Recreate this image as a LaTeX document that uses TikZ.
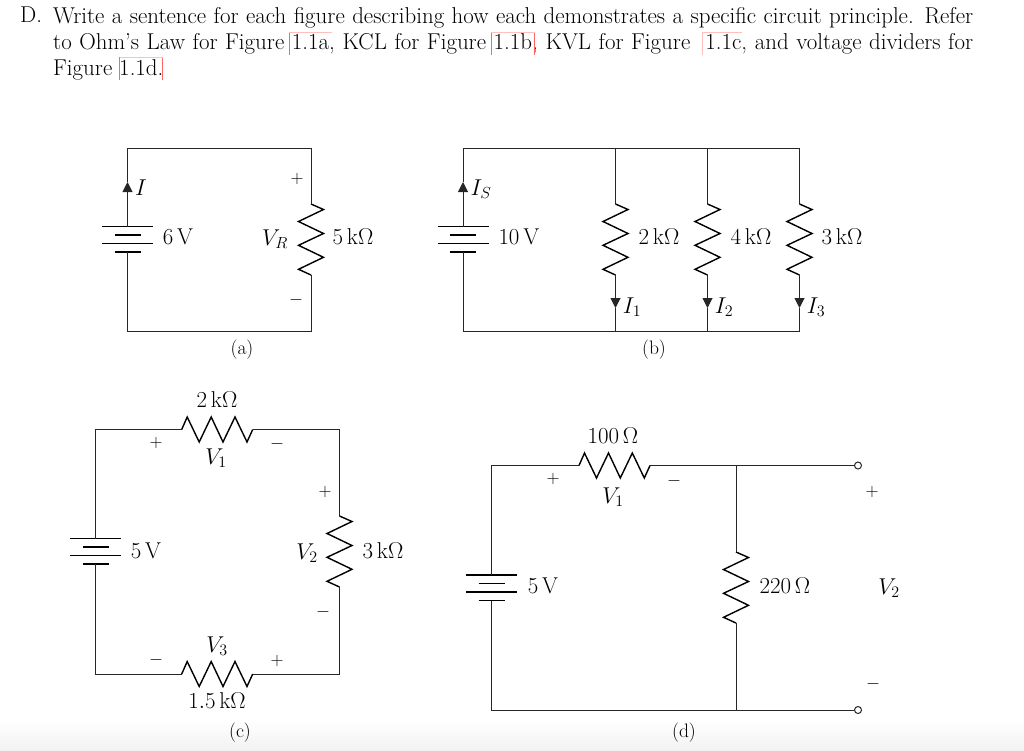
\RequirePackage{fix-cm}
\documentclass[tikz,border=0pt]{standalone}
\usepackage{amsmath, amssymb}
\usepackage{xcolor}
\usetikzlibrary{arrows.meta}
\tikzset{wire/.style={draw=black!85,line width=1pt},
	currtip/.style={wire,-{Triangle[length=10pt,width=10pt]}},
	lbl/.style={inner sep=0pt,font=\fontsize{22.9}{27}\selectfont},
	sgn/.style={inner sep=0pt,font=\fontsize{18}{20}\selectfont},
	figcap/.style={inner sep=0pt,font=\fontsize{19.5}{22}\selectfont},
	term/.style={circle,draw=black!85,line width=1pt,fill=white,inner sep=0pt,minimum size=7pt},
	redbar/.style={draw=red!60,line width=0.9pt},
	redpale/.style={draw=red!25,line width=0.9pt},
	resistor/.pic={
		\draw[line width=1.4pt,line join=miter] (0,0) -- (5.5,-12.5) -- (17.5,12.5) -- (29.5,-12.5) -- (41.3,12.5) -- (53.3,-12.5) -- (65.3,12.5) -- (71,0);
		\coordinate (-in) at (0,0);
		\coordinate (-out) at (71,0);
	},
	battery/.pic={
		\draw[line width=1.3pt] (-25.5,0) -- (25.5,0);
		\draw[line width=1.3pt] (-13,8.5) -- (13,8.5);
		\draw[line width=1.3pt] (-25.5,17) -- (25.5,17);
		\draw[line width=1.3pt] (-13,25.5) -- (13,25.5);
		\coordinate (-top) at (0,0);
		\coordinate (-bot) at (0,25.5);
	}}
\begin{document}
\begin{tikzpicture}[x=1pt,y=-1pt]
	\useasboundingbox (0,0) rectangle (1024,750);
	\shade[top color=white,bottom color=black!5] (0,720) rectangle (1024,750);
	\node[lbl,anchor=north west] (itemD) at (20,7) {D.};
	\node[lbl,anchor=north west,text width=920pt,align=justify,font=\fontsize{22.9}{25.9}\selectfont] (para) at (53,7)
	{Write a sentence for each figure describing how each demonstrates a specific circuit principle. Refer\linebreak
	to Ohm's Law for Figure 1.1a, KCL for Figure 1.1b, KVL for Figure\ \ 1.1c, and voltage dividers for\linebreak
	Figure 1.1d.};
	\draw[redbar] (289,32) -- (289,55);
	\draw[redpale] (289,32.5) -- (332,32.5);
	\draw[redbar] (491,32) -- (491,55);
	\draw[redbar] (534.5,32) -- (534.5,55);
	\draw[redpale] (491,32.5) -- (534.5,32.5);
	\draw[redpale] (702.5,32) -- (702.5,55);
	\draw[redpale] (702.5,32.5) -- (742,32.5);
	\draw[redbar] (119.5,57) -- (119.5,80);
	\draw[redbar] (162.5,57) -- (162.5,80);
	\draw[redpale] (119.5,57.5) -- (162.5,57.5);

	\pic (Ba) at (127.5,226.5) {battery};
	\pic[rotate=-90] (Ra) at (311,204) {resistor};
	\coordinate (Ia) at (127.5,182);
	\draw[currtip] (Ba-top) -- (Ia);
	\draw[wire] (Ia) |- (311,148) -- (Ra-in);
	\draw[wire] (Ba-bot) |- (311,331) -- (Ra-out);
	\node[lbl] (lIa) at (141,188) {$I$};
	\node[lbl] (lBa) at (178,237) {$6\,\mathrm{V}$};
	\node[lbl] (lVR) at (275,239) {$V_R$};
	\node[lbl] (lRa) at (353,237) {$5\,\mathrm{k\Omega}$};
	\node[sgn] (pa) at (297,179) {$+$};
	\node[sgn] (ma) at (296,300) {$-$};
	\node[figcap] (capa) at (242,350) {(a)};

	\pic (Bb) at (463,226.5) {battery};
	\pic[rotate=-90] (Rb1) at (615.5,204) {resistor};
	\pic[rotate=-90] (Rb2) at (707.5,204) {resistor};
	\pic[rotate=-90] (Rb3) at (799.5,204) {resistor};
	\coordinate (Is) at (463,182);
	\coordinate (I1) at (615.5,308);
	\coordinate (I2) at (707.5,308);
	\coordinate (I3) at (799.5,308);
	\coordinate (topb1) at (615.5,148);
	\coordinate (topb2) at (707.5,148);
	\coordinate (botb1) at (615.5,331);
	\coordinate (botb2) at (707.5,331);
	\draw[currtip] (Bb-top) -- (Is);
	\draw[wire] (Is) |- (799.5,148) -- (Rb3-in);
	\draw[wire] (Bb-bot) |- (799.5,331) -- (I3);
	\draw[wire] (topb1) -- (Rb1-in);
	\draw[wire] (topb2) -- (Rb2-in);
	\draw[currtip] (Rb1-out) -- (I1);
	\draw[currtip] (Rb2-out) -- (I2);
	\draw[currtip] (Rb3-out) -- (I3);
	\draw[wire] (I1) -- (botb1);
	\draw[wire] (I2) -- (botb2);
	\node[lbl] (lIs) at (481,189) {$I_S$};
	\node[lbl] (lBb) at (519,237) {$10\,\mathrm{V}$};
	\node[lbl] (lRb1) at (659,237) {$2\,\mathrm{k\Omega}$};
	\node[lbl] (lRb2) at (751,237) {$4\,\mathrm{k\Omega}$};
	\node[lbl] (lRb3) at (842,237) {$3\,\mathrm{k\Omega}$};
	\node[lbl] (lI1) at (632,307) {$I_1$};
	\node[lbl] (lI2) at (724,307) {$I_2$};
	\node[lbl] (lI3) at (816,307) {$I_3$};
	\node[figcap] (capb) at (654,350) {(b)};

	\pic (Bc) at (95.5,538.5) {battery};
	\pic (Rc1) at (181.7,429.5) {resistor};
	\pic[rotate=-90] (Rc2) at (339.5,516) {resistor};
	\pic (Rc3) at (181.7,674) {resistor};
	\draw[wire] (Bc-top) |- (Rc1-in);
	\draw[wire] (Rc1-out) -| (Rc2-in);
	\draw[wire] (Rc2-out) |- (Rc3-out);
	\draw[wire] (Rc3-in) -| (Bc-bot);
	\node[lbl] (lRc1) at (217,400) {$2\,\mathrm{k\Omega}$};
	\node[lbl] (lVc1) at (216,458) {$V_1$};
	\node[sgn] (pc1) at (156,443) {$+$};
	\node[sgn] (mc1) at (277,444) {$-$};
	\node[sgn] (pc2) at (325,492) {$+$};
	\node[sgn] (mc2) at (323,612) {$-$};
	\node[lbl] (lVc2) at (307,553) {$V_2$};
	\node[lbl] (lRc2) at (383,551) {$3\,\mathrm{k\Omega}$};
	\node[lbl] (lBc) at (146,551) {$5\,\mathrm{V}$};
	\node[lbl] (lVc3) at (217,646) {$V_3$};
	\node[sgn] (mc3) at (156,660) {$-$};
	\node[sgn] (pc3) at (277,661) {$+$};
	\node[lbl] (lRc3) at (217,701) {$1.5\,\mathrm{k\Omega}$};
	\node[figcap] (capc) at (240,733) {(c)};

	\pic (Bd) at (491.5,575) {battery};
	\pic (Rd1) at (579,465.5) {resistor};
	\pic[rotate=-90] (Rd2) at (736,552) {resistor};
	\coordinate (topd) at (736,465.5);
	\coordinate (botd) at (736,710);
	\node[term] (tp) at (858,465.5) {};
	\node[term] (tm) at (858,710) {};
	\draw[wire] (Bd-top) |- (Rd1-in);
	\draw[wire] (Rd1-out) -- (tp);
	\draw[wire] (Bd-bot) |- (tm);
	\draw[wire] (Rd2-in) -- (topd);
	\draw[wire] (Rd2-out) -- (botd);
	\node[lbl] (lRd1) at (613,436) {$100\,\Omega$};
	\node[lbl] (lVd1) at (613,497) {$V_1$};
	\node[sgn] (pd1) at (553,479) {$+$};
	\node[sgn] (md1) at (674,481) {$-$};
	\node[lbl] (lBd) at (543,586) {$5\,\mathrm{V}$};
	\node[lbl] (lRd2) at (785,586) {$220\,\Omega$};
	\node[sgn] (pd2) at (872,492) {$+$};
	\node[lbl] (lVd2) at (889,588) {$V_2$};
	\node[sgn] (md2) at (873,684) {$-$};
	\node[figcap] (capd) at (684,733) {(d)};
\end{tikzpicture}
\end{document}
